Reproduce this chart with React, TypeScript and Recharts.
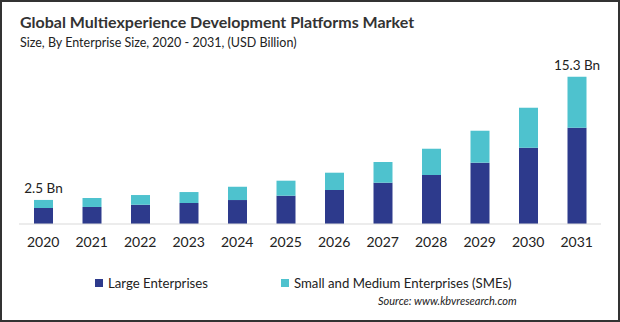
import { BarChart, Bar, XAxis, YAxis, LabelList } from 'recharts';

const years = ['2020', '2021', '2022', '2023', '2024', '2025', '2026', '2027', '2028', '2029', '2030', '2031'];
const largeEnterprises = [1.66, 1.77, 2.0, 2.18, 2.49, 2.94, 3.53, 4.29, 5.09, 6.37, 7.92, 10.0];
const smes = [0.84, 0.93, 1.01, 1.14, 1.38, 1.56, 1.8, 2.15, 2.73, 3.32, 4.16, 5.3];
const totalLabels = ['2.5 Bn', '', '', '', '', '', '', '', '', '', '', '15.3 Bn'];

const DARK = '#2D3A8C';
const LIGHT = '#4EC2CE';
const FONT = 'Lato, "Open Sans", sans-serif';

const data = years.map((year, i) => ({
  year,
  large: largeEnterprises[i],
  sme: smes[i],
  label: totalLabels[i],
}));

// only the first and last bars carry a total label
const renderTotal = (props: any) => {
  const { x, y, width, value } = props;
  if (!value) return null;
  return (
    <text x={x + width / 2} y={y - 7} textAnchor="middle" fill="#222" fontSize={13.5} fontFamily={FONT}>
      {value}
    </text>
  );
};

export default function App() {
  return (
    <div style={{ position: 'absolute', left: 0, top: 0, width: 620, height: 322, background: '#fff', fontFamily: FONT }}>
      <div style={{ position: 'absolute', left: 20, top: 12, fontSize: 16, fontWeight: 700, color: '#333', whiteSpace: 'nowrap' }}>
        Global Multiexperience Development Platforms Market
      </div>
      <div style={{ position: 'absolute', left: 20, top: 35, fontSize: 12.5, color: '#222', whiteSpace: 'nowrap' }}>
        Size, By Enterprise Size, 2020 - 2031, (USD Billion)
      </div>

      <div style={{ position: 'absolute', left: 0, top: 0 }}>
        <BarChart width={620} height={322} data={data} margin={{ top: 70, right: 19, left: 19, bottom: 68 }} barSize={19}>
          <YAxis hide domain={[0, 16]} />
          <XAxis
            dataKey="year"
            height={30}
            axisLine={{ stroke: '#d9d9d9' }}
            tickLine={false}
            tickMargin={7}
            tick={{ fill: '#222', fontSize: 14, fontFamily: FONT }}
            interval={0}
          />
          <Bar dataKey="large" stackId="a" fill={DARK} isAnimationActive={false} />
          <Bar dataKey="sme" stackId="a" fill={LIGHT} isAnimationActive={false}>
            <LabelList dataKey="label" content={renderTotal} />
          </Bar>
        </BarChart>
      </div>

      <div style={{ position: 'absolute', left: 95, top: 275, display: 'flex', alignItems: 'center', fontSize: 13.2, color: '#222', whiteSpace: 'nowrap' }}>
        <span style={{ display: 'inline-block', width: 8, height: 8, background: DARK, marginRight: 5 }} />
        <span>Large Enterprises</span>
      </div>
      <div style={{ position: 'absolute', left: 281, top: 275, display: 'flex', alignItems: 'center', fontSize: 13.2, color: '#222', whiteSpace: 'nowrap' }}>
        <span style={{ display: 'inline-block', width: 8, height: 8, background: LIGHT, marginRight: 5 }} />
        <span>Small and Medium Enterprises (SMEs)</span>
      </div>
      <div style={{ position: 'absolute', left: 378, top: 294, fontSize: 11, fontStyle: 'italic', color: '#222', whiteSpace: 'nowrap' }}>
        Source: www.kbvresearch.com
      </div>

      <div style={{ position: 'absolute', left: 0, top: 0, width: 620, height: 322, boxSizing: 'border-box', border: '2px solid #333', pointerEvents: 'none' }} />
    </div>
  );
}
